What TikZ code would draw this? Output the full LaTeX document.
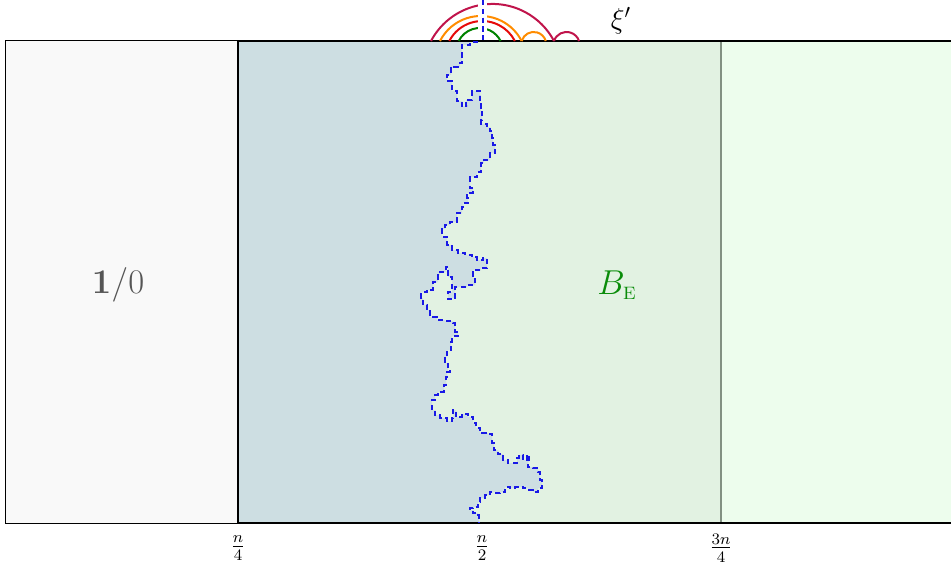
\documentclass[tikz,border=0pt]{standalone}
\usepackage{amsmath}
\definecolor{leftgray}{RGB}{249,249,249}
\definecolor{midgreen}{RGB}{226,242,226}
\definecolor{rightgreen}{RGB}{237,253,237}
\definecolor{bluegray}{RGB}{205,222,226}
\definecolor{vgray}{RGB}{130,145,130}
\definecolor{walkblue}{RGB}{25,25,230}
\definecolor{crim}{RGB}{192,20,75}
\definecolor{orng}{RGB}{255,140,0}
\definecolor{redc}{RGB}{230,10,10}
\definecolor{grn}{RGB}{0,130,0}
\definecolor{labgray}{RGB}{85,85,85}
\definecolor{begreen}{RGB}{10,140,10}
\def\walkpts{(478,42) -| (470,45) -| (462,51) -| (462,63) -| (460,67) -| (454,68) -| (451,75) -| (447,81) -| (452,91) -| (457,96) -| (457,101) -| (462,106) -| (467,106) -| (466,100) -| (470,100) -| (472,91) -| (477,91) -| (480,96) -| (480,103) -| (481,111) -| (482,120) -| (481,124) -| (487,127) -| (490,131) -| (492,138) -| (493,145) -| (495,153) -| (490,160) -| (484,163) -| (481,172) -| (477,177) -| (470,180) -| (470,188) -| (473,193) -| (467,198) -| (468,203) -| (463,207) -| (462,213) -| (457,216) -| (457,222) -| (450,225) -| (445,229) -| (442,237) -| (447,245) -| (452,250) -| (458,253) -| (465,255) -| (472,257) -| (477,260) -| (483,258) -| (487,268) -| (481,270) -| (473,270) -| (473,278) -| (475,285) -| (467,287) -| (460,287) -| (455,290) -| (455,298) -| (452,299) -| (448,292) -| (452,287) -| (452,277) -| (448,267) -| (446,272) -| (440,275) -| (438,282) -| (433,290) -| (427,292) -| (421,298) -| (423,305) -| (427,310) -| (430,317) -| (437,320) -| (445,321) -| (453,323) -| (455,332) -| (458,336) -| (452,342) -| (451,350) -| (447,357) -| (445,363) -| (448,371) -| (450,372) -| (447,377) -| (446,385) -| (444,392) -| (438,395) -| (435,400) -| (432,410) -| (435,415) -| (440,418) -| (447,421) -| (452,418) -| (453,410) -| (456,417) -| (462,414) -| (468,417) -| (473,423) -| (476,428) -| (480,433) -| (488,434) -| (492,437) -| (492,443) -| (494,450) -| (498,454) -| (503,460) -| (508,463) -| (513,463) -| (517,458) -| (519,455) -| (523,460) -| (527,455) -| (529,462) -| (528,467) -| (533,468) -| (538,472) -| (540,480) -| (542,488) -| (538,492) -| (533,490) -| (528,488) -| (523,487) -| (520,487) -| (515,488) -| (510,487) -| (506,487) -| (505,492) -| (500,493) -| (495,492) -| (491,492) -| (490,495) -| (485,498) -| (480,502) -| (478,507) -| (473,508) -| (470,510) -| (473,513) -| (478,515) -| (479,523)}
\begin{document}
\begin{tikzpicture}[x=0.5pt,y=-0.5pt,
  walkline/.style={walkblue, line width=0.8pt, dash pattern=on 2.6pt off 1.8pt},
  arcline/.style={line width=1pt},
  ticklabel/.style={font=\fontsize{12}{14}\selectfont, inner sep=0pt}]
\useasboundingbox (0,0) rectangle (951,567);
\clip (0,0) rectangle (951,567);
% regions
\fill[leftgray] (5,41) rectangle (238,523);
\fill[midgreen] (238,41) rectangle (721,523);
\fill[rightgreen] (721,41) rectangle (960,523);
\fill[bluegray] (238,41) -- (478,41) -- \walkpts -- (238,523) -- cycle;
% borders
\draw[black, line width=0.5pt] (5,41) rectangle (238,523);
\draw[vgray, line width=0.75pt] (721,41) -- (721,523);
\draw[black, line width=1.25pt] (960,41) -- (238,41) -- (238,523) -- (960,523);
% random walk
\draw[walkline, line join=miter] \walkpts;
% arcs
\draw[arcline, crim] (431,41) arc[start angle=152.1, end angle=27.9, radius=34.8pt];
\draw[arcline, orng] (440,41) arc[start angle=153, end angle=27, radius=22.9pt];
\draw[arcline, redc] (449.3,41) arc[start angle=152.7, end angle=27.3, radius=18.45pt];
\draw[arcline, grn] (458.7,41) arc[start angle=153.5, end angle=26.5, radius=11.7pt];
\draw[arcline, orng] (521.7,41) arc[start angle=164, end angle=16, radius=6.25pt];
\draw[arcline, crim] (554,41) arc[start angle=161.6, end angle=18.4, radius=6.6pt];
% vertical dashed line with white halo
\draw[white, line width=4.5pt] (482.7,-2) -- (482.7,38);
\draw[walkline] (482.7,0) -- (482.7,40);
% labels
\node[text=labgray] (lab10) at (118,285) {\fontsize{19}{22}\selectfont $\mathbf{1}/0$};
\node[text=begreen] (labBE) at (617,285) {\fontsize{19}{22}\selectfont $B_{\scriptscriptstyle\mathrm{E}}$};
\node[inner sep=0pt] (xi) at (621,21) {\fontsize{14}{16}\selectfont $\xi'$};
\node[ticklabel] (f1) at (238,548) {$\frac{n}{4}$};
\node[ticklabel] (f2) at (482,548) {$\frac{n}{2}$};
\node[ticklabel] (f3) at (721,548) {$\frac{3n}{4}$};
\end{tikzpicture}
\end{document}
